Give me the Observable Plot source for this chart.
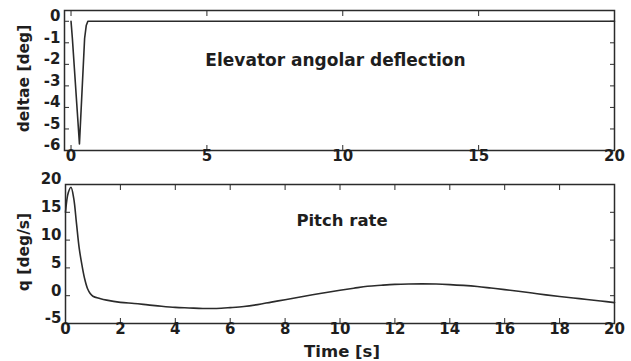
<!DOCTYPE html>
<html>
<head>
<meta charset="utf-8">
<script src="https://cdn.jsdelivr.net/npm/d3@7"></script>
<script src="https://cdn.jsdelivr.net/npm/@observablehq/plot@0.6"></script>
<style>
  html, body { margin: 0; padding: 0; background: #fff; }
  #wrap { position: relative; width: 631px; height: 361px; overflow: hidden; background: #fff; }
  #top, #bottom { position: absolute; left: 0; }
  #top { top: 0; }
  #bottom { top: 170px; }
  svg { overflow: visible; }
</style>
</head>
<body>
<div id="wrap"><div id="top"></div><div id="bottom"></div></div>
<script>
// ---- Data ----
const deltaTime = [0, 0.05, 0.31, 0.5, 0.56, 0.62, 20];
const deltaValue = [0, -0.8, -5.7, -0.8, -0.2, 0, 0];

const qTime = [0, 0.1, 0.2, 0.3, 0.4, 0.5, 0.6, 0.7, 0.8, 0.9, 1.0, 1.25, 1.5, 2, 2.5, 3, 3.5, 4, 4.5, 5, 5.5, 6, 6.5, 7, 7.5, 8, 8.5, 9, 9.5, 10, 10.5, 11, 11.5, 12, 12.5, 13, 13.5, 14, 14.5, 15, 15.5, 16, 16.5, 17, 17.5, 18, 18.5, 19, 19.5, 20];
const qValue = [15, 18.5, 19.5, 17.5, 13, 8.5, 5.5, 3, 1.3, 0.4, -0.1, -0.5, -0.8, -1.2, -1.4, -1.65, -1.9, -2.1, -2.2, -2.3, -2.3, -2.15, -1.95, -1.6, -1.15, -0.72, -0.27, 0.16, 0.57, 0.98, 1.35, 1.7, 1.88, 2.03, 2.1, 2.12, 2.1, 2.0, 1.85, 1.65, 1.38, 1.1, 0.8, 0.48, 0.15, -0.15, -0.42, -0.67, -0.95, -1.25];

const topXTicks = [0, 5, 10, 15, 20];
const topYTicks = [0, -1, -2, -3, -4, -5, -6];
const bottomXTicks = [0, 2, 4, 6, 8, 10, 12, 14, 16, 18, 20];
const bottomYTicks = [20, 15, 10, 5, 0, -5];

const topTitle = "Elevator angolar deflection";
const bottomTitle = "Pitch rate";
const topYLabel = "deltae [deg]";
const bottomYLabel = "q [deg/s]";
const xLabel = "Time [s]";

const deltaData = deltaTime.map((t, i) => ({t, v: deltaValue[i]}));
const qData = qTime.map((t, i) => ({t, v: qValue[i]}));

const ink = "#2b2b2b";
const txt = "#1e1e1e";
const style = {fontFamily: "'DejaVu Sans', sans-serif", fontWeight: "bold", fontSize: "15px", color: txt, background: "transparent", overflow: "visible"};

function frameAxes(xt, yt) {
  return [
    Plot.frame({stroke: ink, strokeWidth: 1.5}),
    Plot.axisX({ticks: xt, anchor: "bottom", tickSize: -5, tickFormat: () => "", label: null, stroke: ink}),
    Plot.axisX({ticks: xt, anchor: "top", tickSize: -5, tickFormat: () => "", label: null, stroke: ink}),
    Plot.axisY({ticks: yt, anchor: "left", tickSize: -5, tickFormat: () => "", label: null, stroke: ink}),
    Plot.axisY({ticks: yt, anchor: "right", tickSize: -5, tickFormat: () => "", label: null, stroke: ink}),
    Plot.axisX({ticks: xt, anchor: "bottom", tickSize: 0, tickPadding: 0, label: null, tickFormat: d => String(d)}),
    Plot.axisY({ticks: yt, anchor: "left", tickSize: 0, tickPadding: 4, dy: -5, label: null, tickFormat: d => String(d)})
  ];
}

const topPlot = Plot.plot({
  width: 631, height: 170,
  marginLeft: 64, marginRight: 17, marginTop: 10, marginBottom: 20,
  style,
  x: {domain: [-0.24, 20]},
  y: {domain: [-6, 0.5]},
  marks: [
    ...frameAxes(topXTicks, topYTicks),
    Plot.line(deltaData, {x: "t", y: "v", stroke: ink, strokeWidth: 1.6}),
    Plot.text([topTitle], {frameAnchor: "top", lineAnchor: "middle", dy: 50, dx: -4, fontSize: 17, fontWeight: "bold", fill: txt}),
    Plot.text([topYLabel], {frameAnchor: "left", textAnchor: "middle", lineAnchor: "middle", dx: -40, dy: -2, rotate: -90, fontSize: 15.5, fontWeight: "bold", fill: txt})
  ]
});

const bottomPlot = Plot.plot({
  width: 631, height: 191,
  marginLeft: 65, marginRight: 17, marginTop: 14, marginBottom: 38,
  style,
  x: {domain: [0, 20]},
  y: {domain: [-5, 20]},
  marks: [
    ...frameAxes(bottomXTicks, bottomYTicks),
    Plot.line(qData, {x: "t", y: "v", stroke: ink, strokeWidth: 1.6, curve: "catmull-rom"}),
    Plot.text([bottomTitle], {frameAnchor: "top", lineAnchor: "middle", dy: 36, dx: 2, fontSize: 16.5, fontWeight: "bold", fill: txt}),
    Plot.text([bottomYLabel], {frameAnchor: "left", textAnchor: "middle", lineAnchor: "middle", dx: -41, dy: -2, rotate: -90, fontSize: 15.5, fontWeight: "bold", fill: txt}),
    Plot.text([xLabel], {frameAnchor: "bottom", lineAnchor: "middle", dy: 28, dx: 2, fontSize: 16.5, fontWeight: "bold", fill: txt})
  ]
});

document.getElementById("top").appendChild(topPlot);
document.getElementById("bottom").appendChild(bottomPlot);
</script>
</body>
</html>
